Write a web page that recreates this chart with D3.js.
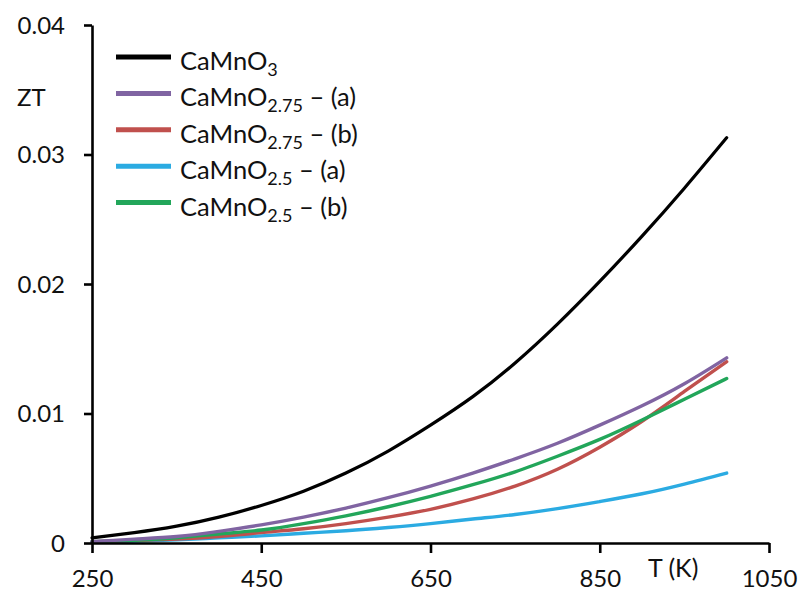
<!DOCTYPE html>
<html><head><meta charset="utf-8">
<script src="https://cdn.jsdelivr.net/npm/d3@7"></script>
<style>body{margin:0;background:#fff}svg{display:block}text{font-family:Lato,"Open Sans",sans-serif;fill:#111}</style>
</head><body><svg id="c" width="801" height="594"></svg>
<script>
const temps = [250,300,350,400,450,500,550,600,650,700,750,800,850,900,950,1000];
const caMnO3 = [0.0004,0.0008,0.0013,0.0020,0.0029,0.0040,0.0054,0.0071,0.0091,0.0113,0.0139,0.0169,0.0202,0.0237,0.0274,0.0313];
const c275a  = [0.0001,0.0003,0.0005,0.0009,0.0014,0.0020,0.0027,0.0035,0.0044,0.0054,0.0065,0.0077,0.0091,0.0106,0.0123,0.0143];
const c275b  = [0.0001,0.0002,0.0003,0.0005,0.0008,0.0011,0.0015,0.0020,0.0026,0.0034,0.0044,0.0057,0.0074,0.0094,0.0117,0.0140];
const c25a   = [0.0001,0.00015,0.00025,0.0004,0.00055,0.00075,0.00095,0.0012,0.0015,0.00185,0.0022,0.00265,0.0032,0.0038,0.00455,0.0054];
const c25b   = [0.0001,0.0002,0.0004,0.0007,0.0010,0.0015,0.0021,0.0028,0.0036,0.0045,0.0055,0.0067,0.0080,0.0095,0.0111,0.0127];
const seriesNames = ["CaMnO|3|", "CaMnO|2.75| – (a)", "CaMnO|2.75| – (b)", "CaMnO|2.5| – (a)", "CaMnO|2.5| – (b)"];
const seriesColors = ["#000000","#8064A2","#C0504D","#2BABE2","#22A65A"];
const xTicks = [250,450,650,850,1050];
const yTicks = [0,0.01,0.02,0.03,0.04];

const svg = d3.select("#c");
const x = d3.scaleLinear().domain([250,1050]).range([92,769]);
const y = d3.scaleLinear().domain([0,0.04]).range([543,25]);

const allSeries = [caMnO3,c275a,c275b,c25a,c25b];
const line = d3.line().x((d,i)=>x(temps[i])).y(d=>y(d)).curve(d3.curveNatural);
const drawOrder = [3,2,4,1,0];
drawOrder.forEach(k=>{
  svg.append("path").attr("d",line(allSeries[k])).attr("fill","none")
    .attr("stroke",seriesColors[k]).attr("stroke-width",k===0?3.2:3.4).attr("stroke-linecap","round");
});

const xa = svg.append("g").attr("transform","translate(0,543)")
  .call(d3.axisBottom(x).tickValues(xTicks).tickSize(10).tickSizeOuter(0).tickFormat(d3.format("d")));
const ya = svg.append("g").attr("transform","translate(92,0)")
  .call(d3.axisLeft(y).tickValues(yTicks).tickSize(8).tickSizeOuter(0).tickFormat(d=>d===0?"0":d3.format(".2f")(d)));
[xa,ya].forEach(g=>{
  g.select(".domain").attr("stroke","#000").attr("stroke-width",2.6);
  g.selectAll(".tick line").attr("stroke","#000").attr("stroke-width",2.6);
  g.selectAll(".tick text").attr("font-size",24).attr("fill","#111").style("font-family","Lato,'Open Sans',sans-serif");
});
xa.selectAll(".tick text").attr("dy",null).attr("y",44);
ya.selectAll(".tick text").attr("x",-27).attr("dy","0.35em");

svg.append("text").attr("x",17).attr("y",106).attr("font-size",24).text("ZT");
svg.append("text").attr("x",648).attr("y",577).attr("font-size",25).text("T (K)");

const lg = svg.append("g");
seriesNames.forEach((nm,i)=>{
  const cy = 57 + i*36.4;
  lg.append("line").attr("x1",116).attr("x2",171).attr("y1",cy).attr("y2",cy)
    .attr("stroke",seriesColors[i]).attr("stroke-width",5);
  const parts = nm.split("|");
  const t = lg.append("text").attr("x",180).attr("y",cy+13).attr("font-size",25.5);
  t.append("tspan").text(parts[0]);
  t.append("tspan").attr("font-size",18).attr("dy",6).text(parts[1]);
  if(parts[2]) t.append("tspan").attr("dy",-6).text(parts[2]);
});
</script></body></html>
